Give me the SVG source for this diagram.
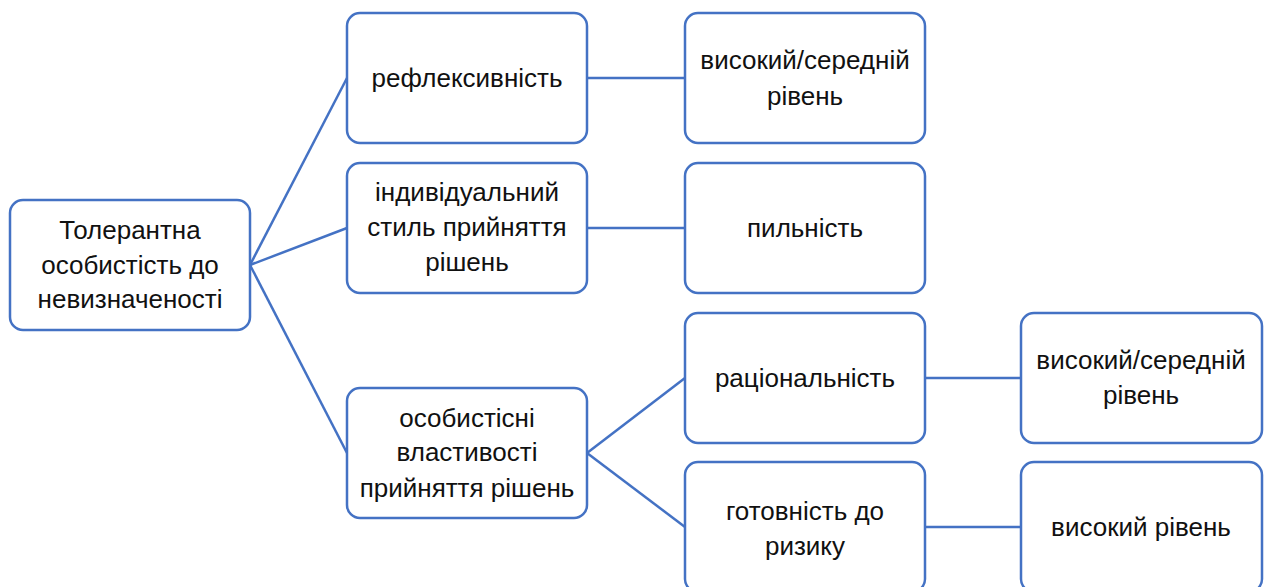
<svg xmlns="http://www.w3.org/2000/svg" width="1268" height="587" viewBox="0 0 1268 587">
<style>
.box{fill:#ffffff;stroke:#4472C4;stroke-width:2.5}
.t{font-family:"Liberation Sans",Arial,sans-serif;font-size:26px;fill:#111111;text-anchor:middle}
.c{stroke:#4472C4;stroke-width:2.5;fill:none}
</style>
<rect width="1268" height="587" fill="#ffffff"/>
<g id="connectors">
<line class="c" x1="250" y1="265" x2="347" y2="78"/>
<line class="c" x1="250" y1="265" x2="347" y2="228"/>
<line class="c" x1="250" y1="265" x2="347" y2="453"/>
<line class="c" x1="587" y1="78" x2="685" y2="78"/>
<line class="c" x1="587" y1="228" x2="685" y2="228"/>
<line class="c" x1="587" y1="453" x2="685" y2="378"/>
<line class="c" x1="587" y1="453" x2="685" y2="527"/>
<line class="c" x1="925" y1="378" x2="1021" y2="378"/>
<line class="c" x1="925" y1="527" x2="1021" y2="527"/>
</g>
<g id="root">
<rect class="box" x="10" y="200" width="240" height="130" rx="13"/>
<text class="t" x="130" y="239">Толерантна</text>
<text class="t" x="130" y="274">особистість до</text>
<text class="t" x="130" y="308">невизначеності</text>
</g>
<g id="reflex">
<rect class="box" x="347" y="13" width="240" height="130" rx="13"/>
<text class="t" x="467" y="87">рефлексивність</text>
</g>
<g id="style">
<rect class="box" x="347" y="163" width="240" height="130" rx="13"/>
<text class="t" x="467" y="201">індивідуальний</text>
<text class="t" x="467" y="236">стиль прийняття</text>
<text class="t" x="467" y="271">рішень</text>
</g>
<g id="props">
<rect class="box" x="347" y="388" width="240" height="130" rx="13"/>
<text class="t" x="467" y="427">особистісні</text>
<text class="t" x="467" y="461">властивості</text>
<text class="t" x="467" y="497">прийняття рішень</text>
</g>
<g id="level1">
<rect class="box" x="685" y="13" width="240" height="130" rx="13"/>
<text class="t" x="805" y="69">високий/середній</text>
<text class="t" x="805" y="105">рівень</text>
</g>
<g id="vigilance">
<rect class="box" x="685" y="163" width="240" height="130" rx="13"/>
<text class="t" x="805" y="237">пильність</text>
</g>
<g id="rational">
<rect class="box" x="685" y="313" width="240" height="130" rx="13"/>
<text class="t" x="805" y="387">раціональність</text>
</g>
<g id="risk">
<rect class="box" x="685" y="462" width="240" height="130" rx="13"/>
<text class="t" x="805" y="520">готовність до</text>
<text class="t" x="805" y="555">ризику</text>
</g>
<g id="level2">
<rect class="box" x="1021" y="313" width="241" height="130" rx="13"/>
<text class="t" x="1141" y="369">високий/середній</text>
<text class="t" x="1141" y="404">рівень</text>
</g>
<g id="level3">
<rect class="box" x="1021" y="462" width="241" height="130" rx="13"/>
<text class="t" x="1141" y="536">високий рівень</text>
</g>
</svg>
